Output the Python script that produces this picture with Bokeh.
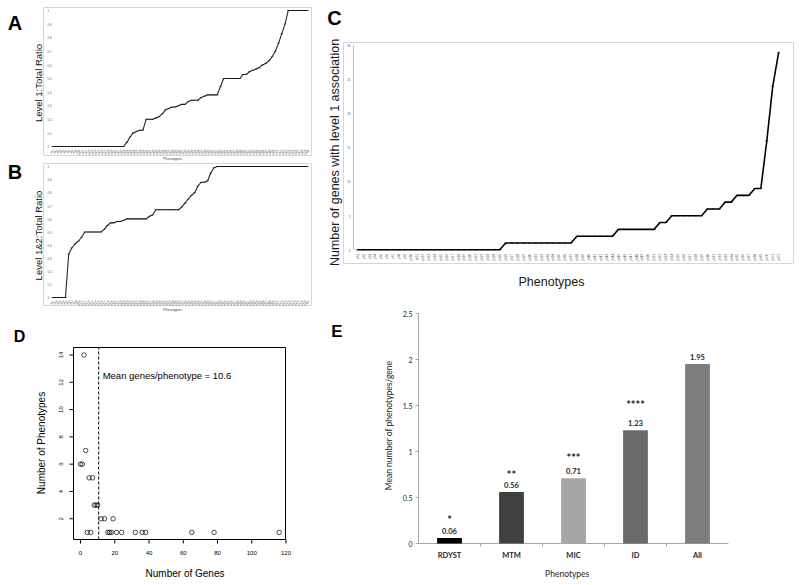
import math
from bokeh.plotting import figure
from bokeh.layouts import row, column
from bokeh.models import Range1d, Label, ColumnDataSource
from bokeh.embed import file_html
from bokeh.resources import INLINE
from bokeh.core.properties import value

# ---------------- data ----------------
# Panel A: Level 1 : Total ratio per phenotype (sorted)
a_ratio = [0, 0, 0, 0, 0, 0, 0, 0, 0, 0, 0, 0, 0, 0, 0, 0, 0, 0, 0, 0, 0, 0, 0,
           0.03, 0.07, 0.10, 0.11, 0.12, 0.12, 0.20, 0.20, 0.20, 0.21, 0.22, 0.24,
           0.27, 0.28, 0.29, 0.29, 0.30, 0.31, 0.31, 0.33, 0.34, 0.34, 0.34, 0.36,
           0.37, 0.38, 0.38, 0.38, 0.38, 0.44, 0.50, 0.50, 0.50, 0.50, 0.50, 0.50,
           0.53, 0.53, 0.55, 0.56, 0.57, 0.58, 0.60, 0.61, 0.63, 0.66, 0.70, 0.76,
           0.83, 0.90, 1.0, 1.0, 1.0, 1.0, 1.0, 1.0, 1.0]
# Panel B: Level 1&2 : Total ratio per phenotype (sorted)
b_ratio = [0, 0, 0, 0, 0, 0.33, 0.38, 0.41, 0.43, 0.46, 0.50, 0.50, 0.50, 0.50,
           0.50, 0.50, 0.52, 0.55, 0.57, 0.57, 0.58, 0.58, 0.59, 0.60, 0.60, 0.60,
           0.60, 0.60, 0.60, 0.60, 0.62, 0.63, 0.67, 0.67, 0.67, 0.67, 0.67, 0.67,
           0.67, 0.67, 0.69, 0.72, 0.75, 0.78, 0.80, 0.85, 0.88, 0.88, 0.89, 0.95,
           0.99, 1.0, 1.0, 1.0, 1.0, 1.0, 1.0, 1.0, 1.0, 1.0, 1.0, 1.0, 1.0, 1.0,
           1.0, 1.0, 1.0, 1.0, 1.0, 1.0, 1.0, 1.0, 1.0, 1.0, 1.0, 1.0, 1.0, 1.0,
           1.0, 1.0]
ratio_ticks = [0, 0.1, 0.2, 0.3, 0.4, 0.5, 0.6, 0.7, 0.8, 0.9, 1]
ratio_tick_labels = ["0", "0.1", "0.2", "0.3", "0.4", "0.5", "0.6", "0.7", "0.8", "0.9", "1"]

# Panel C: number of genes with level 1 association per phenotype (sorted)
c_genes = [0, 0, 0, 0, 0, 0, 0, 0, 0, 0, 0, 0, 0, 0, 0, 0, 0, 0, 0, 0, 0, 0, 0, 0, 0,
           1, 1, 1, 1, 1, 1, 1, 1, 1, 1, 1, 1,
           2, 2, 2, 2, 2, 2, 2,
           3, 3, 3, 3, 3, 3, 3,
           4, 4,
           5, 5, 5, 5, 5, 5,
           6, 6, 6,
           7, 7,
           8, 8, 8,
           9, 9,
           16, 24, 29]
c_ticks = [0, 5, 10, 15, 20, 25, 30]

# Panel D: number of genes vs number of phenotypes
d_genes = [2, 3, 0, 1, 5, 7, 8, 9, 10, 12, 14, 19, 4, 6, 16, 17, 18, 21, 24, 32, 36, 38, 65, 78, 116]
d_phen = [14, 7, 6, 6, 5, 5, 3, 3, 3, 2, 2, 2, 1, 1, 1, 1, 1, 1, 1, 1, 1, 1, 1, 1, 1]
d_mean = 10.6
d_xticks = [0, 20, 40, 60, 80, 100, 120]
d_yticks = [2, 4, 6, 8, 10, 12, 14]

# Panel E: mean number of phenotypes per gene
e_cats = ["RDYST", "MTM", "MIC", "ID", "All"]
e_means = [0.06, 0.56, 0.71, 1.23, 1.95]
e_stars = ["*", "**", "***", "****", ""]
e_yticks = [0, 0.5, 1, 1.5, 2, 2.5]
e_ytick_labels = ["0", "0.5", "1", "1.5", "2", "2.5"]

# ---------------- styles / layout ----------------
ARIAL = "Liberation Sans"
CALIBRI = "Lato"
E_COLORS = ["#000000", "#404040", "#a6a6a6", "#6a6a6a", "#7d7d7d"]
STAR_SHIFT = [-18, -17, -21, -26, 0]
BOX_GRAY = "#d6d6d6"

# figure boxes (page px: x0, y0, x1, y1) and plot-area rectangles
FIG_A, RECT_A = (0, 0, 326, 161), (43, 7, 311, 155)
FIG_B, RECT_B = (0, 161, 326, 312), (43, 163, 311, 305)
FIG_D, RECT_D = (0, 312, 326, 585), (73, 347, 285, 539)
FIG_C, RECT_C = (326, 0, 800, 300), (343, 42, 793, 263)
FIG_E, RECT_E = (326, 300, 800, 585), (418, 313, 728, 543)


def panel(fig_box, rect, xlim, ylim):
    fx0, fy0, fx1, fy1 = fig_box
    px0, py0, px1, py1 = rect
    sx = (px1 - px0) / (xlim[1] - xlim[0])
    sy = (py1 - py0) / (ylim[1] - ylim[0])

    def X(px):
        return xlim[0] + (px - px0) / sx

    def Y(py):
        return ylim[0] + (py1 - py) / sy

    p = figure(width=fx1 - fx0, height=fy1 - fy0,
               x_range=Range1d(X(fx0), X(fx1)), y_range=Range1d(Y(fy1), Y(fy0)),
               output_backend="svg", toolbar_location=None,
               x_axis_location=None, y_axis_location=None,
               min_border_left=0, min_border_right=0, min_border_top=0, min_border_bottom=0)
    p.outline_line_color = None
    p.background_fill_color = "white"
    p.border_fill_color = "white"
    p.xgrid.visible = False
    p.ygrid.visible = False
    if "frame_align" in p.properties():
        p.frame_align = False
    return p, sx, sy


def label(p, fig_box, px, py, text, size, bold=False, angle=0.0, font=ARIAL, color="#111111"):
    p.add_layout(Label(x=px - fig_box[0], y=fig_box[3] - py, x_units="screen", y_units="screen",
                       text=text, text_font=font, text_font_size=size,
                       text_font_style="bold" if bold else "normal",
                       text_align="center", text_baseline="middle", angle=angle,
                       text_color=color))


def box(p, xlim, ylim, color, width=1.0):
    p.quad(left=[xlim[0]], right=[xlim[1]], bottom=[ylim[0]], top=[ylim[1]],
           fill_color=None, line_color=color, line_width=width)


# ---------------- Panels A and B ----------------
idx_ab = list(range(len(a_ratio)))
codes_ab = ["ph%d" % (i + 1) for i in idx_ab]
XLIM_AB = (-2.8, 80.2)
YLIM_A = (-0.066, 1.022)
YLIM_B = (-0.061, 1.023)

pA, sxA, syA = panel(FIG_A, RECT_A, XLIM_AB, YLIM_A)
pB, sxB, syB = panel(FIG_B, RECT_B, XLIM_AB, YLIM_B)
for p, vals, ylim in ((pA, a_ratio, YLIM_A), (pB, b_ratio, YLIM_B)):
    box(p, XLIM_AB, ylim, BOX_GRAY)
    p.line(idx_ab, vals, line_color="#262626", line_width=1.1)
    p.scatter(idx_ab, vals, marker="dash", size=2.5, line_color="#000000", line_width=0.5)
    p.text(x=[XLIM_AB[0]] * len(ratio_ticks), y=ratio_ticks, text=ratio_tick_labels,
           x_offset=4, text_align="left", text_baseline="middle",
           text_font=value(ARIAL), text_font_size="3px", text_color="#555555")
    p.text(x=idx_ab, y=[0] * len(idx_ab), text=codes_ab, angle=math.pi / 4,
           x_offset=1, y_offset=3, text_align="right", text_baseline="middle",
           text_font=value(ARIAL), text_font_size="2.8px", text_color="#444444")

label(pA, FIG_A, 14.5, 22.5, "A", "20px", bold=True, color="#000000")
label(pA, FIG_A, 37.5, 82.5, "Level 1:Total Ratio", "9.5px", angle=math.pi / 2)
label(pA, FIG_A, 172, 158.5, "Phenotypes", "3.5px", color="#444444")
label(pB, FIG_B, 14.5, 171.5, "B", "20px", bold=True, color="#000000")
label(pB, FIG_B, 37.5, 235, "Level 1&2:Total Ratio", "9.5px", angle=math.pi / 2)
label(pB, FIG_B, 172, 309, "Phenotypes", "3.5px", color="#444444")

# ---------------- Panel C ----------------
idx_c = list(range(len(c_genes)))
codes_c = ["ph%d" % (i + 1) for i in idx_c]
XLIM_C = (-2.33, 73.5)
YLIM_C = (-2.01, 30.44)
pC, sxC, syC = panel(FIG_C, RECT_C, XLIM_C, YLIM_C)
box(pC, XLIM_C, YLIM_C, BOX_GRAY)
c_axis_x = XLIM_C[0] + 10 / sxC
pC.segment(x0=[c_axis_x], y0=[c_ticks[0]], x1=[c_axis_x], y1=[c_ticks[-1]],
           line_color="#bdbdbd", line_width=1)
pC.text(x=[c_axis_x] * len(c_ticks), y=c_ticks, text=[str(t) for t in c_ticks],
        x_offset=-3, text_align="right", text_baseline="middle",
        text_font=value(ARIAL), text_font_size="3px", text_color="#555555")
pC.line(idx_c, c_genes, line_color="#000000", line_width=1.6)
pC.scatter(idx_c, c_genes, marker="dash", size=3, line_color="#000000", line_width=0.6)
pC.text(x=idx_c, y=[0] * len(idx_c), text=codes_c, angle=math.pi / 2,
        y_offset=4, text_align="right", text_baseline="middle",
        text_font=value(ARIAL), text_font_size="3px", text_color="#444444")
label(pC, FIG_C, 334, 17.5, "C", "20px", bold=True, color="#000000")
label(pC, FIG_C, 334, 152, "Number of genes with level 1 association", "12.5px",
      angle=math.pi / 2, color="#1a1a1a")
label(pC, FIG_C, 551, 281, "Phenotypes", "12.5px", color="#1a1a1a")

# ---------------- Panel D ----------------
XLIM_D = (-4.1, 119.7)
YLIM_D = (0.48, 14.55)
pD, sxD, syD = panel(FIG_D, RECT_D, XLIM_D, YLIM_D)
box(pD, XLIM_D, YLIM_D, "#000000")
TICK = 4
pD.segment(x0=[XLIM_D[0]] * len(d_yticks), x1=[XLIM_D[0] - TICK / sxD] * len(d_yticks),
           y0=d_yticks, y1=d_yticks, line_color="#000000", line_width=1)
pD.segment(x0=d_xticks, x1=d_xticks, y0=[YLIM_D[0]] * len(d_xticks),
           y1=[YLIM_D[0] - TICK / syD] * len(d_xticks), line_color="#000000", line_width=1)
pD.text(x=[XLIM_D[0]] * len(d_yticks), y=d_yticks, text=[str(t) for t in d_yticks],
        x_offset=-13, angle=math.pi / 2, text_align="center", text_baseline="middle",
        text_font=value(ARIAL), text_font_size="6px", text_color="#000000")
pD.text(x=d_xticks, y=[YLIM_D[0]] * len(d_xticks), text=[str(t) for t in d_xticks],
        y_offset=13, text_align="center", text_baseline="middle",
        text_font=value(ARIAL), text_font_size="6px", text_color="#000000")
pD.segment(x0=[d_mean], x1=[d_mean], y0=[YLIM_D[0]], y1=[YLIM_D[1]],
           line_color="#000000", line_width=1, line_dash="3 2")
pD.scatter(d_genes, d_phen, marker="circle", size=4.5, fill_color=None,
           line_color="#000000", line_width=0.7)
pD.add_layout(Label(x=d_mean, y=12.5, x_offset=4, text="Mean genes/phenotype = %.1f" % d_mean,
                    text_font=ARIAL, text_font_size="9.5px", text_baseline="middle",
                    text_align="left", text_color="#000000"))
label(pD, FIG_D, 19, 336, "D", "16px", bold=True, color="#000000")
label(pD, FIG_D, 184.5, 572.5, "Number of Genes", "10px", color="#000000")
label(pD, FIG_D, 41, 442.5, "Number of Phenotypes", "10px", angle=math.pi / 2, color="#000000")

# ---------------- Panel E ----------------
XLIM_E = (0, len(e_cats))
YLIM_E = (e_yticks[0], e_yticks[-1])
pE, sxE, syE = panel(FIG_E, RECT_E, XLIM_E, YLIM_E)
e_x = [i + 0.5 for i in range(len(e_cats))]
e_bounds = list(range(1, len(e_cats)))
AX_GRAY = "#a6a6a6"
# axes
pE.segment(x0=[XLIM_E[0]], x1=[XLIM_E[0]], y0=[YLIM_E[0]], y1=[YLIM_E[1]],
           line_color=AX_GRAY, line_width=1)
pE.segment(x0=[XLIM_E[0]], x1=[XLIM_E[1]], y0=[YLIM_E[0]], y1=[YLIM_E[0]],
           line_color=AX_GRAY, line_width=1)
pE.segment(x0=[XLIM_E[0]] * len(e_yticks), x1=[XLIM_E[0] - 3 / sxE] * len(e_yticks),
           y0=e_yticks, y1=e_yticks, line_color=AX_GRAY, line_width=1)
pE.segment(x0=e_bounds, x1=e_bounds, y0=[YLIM_E[0]] * len(e_bounds),
           y1=[YLIM_E[0] - 3 / syE] * len(e_bounds), line_color=AX_GRAY, line_width=1)
pE.text(x=[XLIM_E[0]] * len(e_yticks), y=e_yticks, text=e_ytick_labels,
        x_offset=-6, text_align="right", text_baseline="middle",
        text_font=value(CALIBRI), text_font_size="7px", text_color="#262626")
pE.text(x=e_x, y=[YLIM_E[0]] * len(e_x), text=e_cats, y_offset=12,
        text_align="center", text_baseline="middle", text_font=value(CALIBRI),
        text_font_style="bold", text_font_size="7.5px", text_color="#262626")
# bars and annotations
srcE = ColumnDataSource(dict(x=e_x, top=e_means, color=E_COLORS,
                             lab=["%.2f" % v for v in e_means], star=e_stars,
                             shift=STAR_SHIFT))
pE.vbar(x="x", top="top", width=0.4, fill_color="color", line_color=None, source=srcE)
pE.text(x="x", y="top", text="lab", y_offset=-7, text_align="center", text_baseline="middle",
        text_font=value(CALIBRI), text_font_style="bold", text_font_size="7.5px",
        text_color="#262626", source=srcE)
pE.text(x="x", y="top", text="star", y_offset="shift", text_align="center", text_baseline="middle",
        text_font=value(CALIBRI), text_font_style="bold", text_font_size="11px",
        text_color="#262626", source=srcE)
label(pE, FIG_E, 336.5, 331, "E", "17px", bold=True, color="#000000")
label(pE, FIG_E, 388.5, 425, "Mean number of phenotypes/gene", "8.5px", angle=math.pi / 2,
      font=CALIBRI, color="#262626")
label(pE, FIG_E, 566.7, 573, "Phenotypes", "8.5px", font=CALIBRI, color="#262626")

layout = row(column(pA, pB, pD), column(pC, pE))

with open("out.html", "w") as f:
    f.write(file_html(layout, INLINE, title="Phenotype associations"))
